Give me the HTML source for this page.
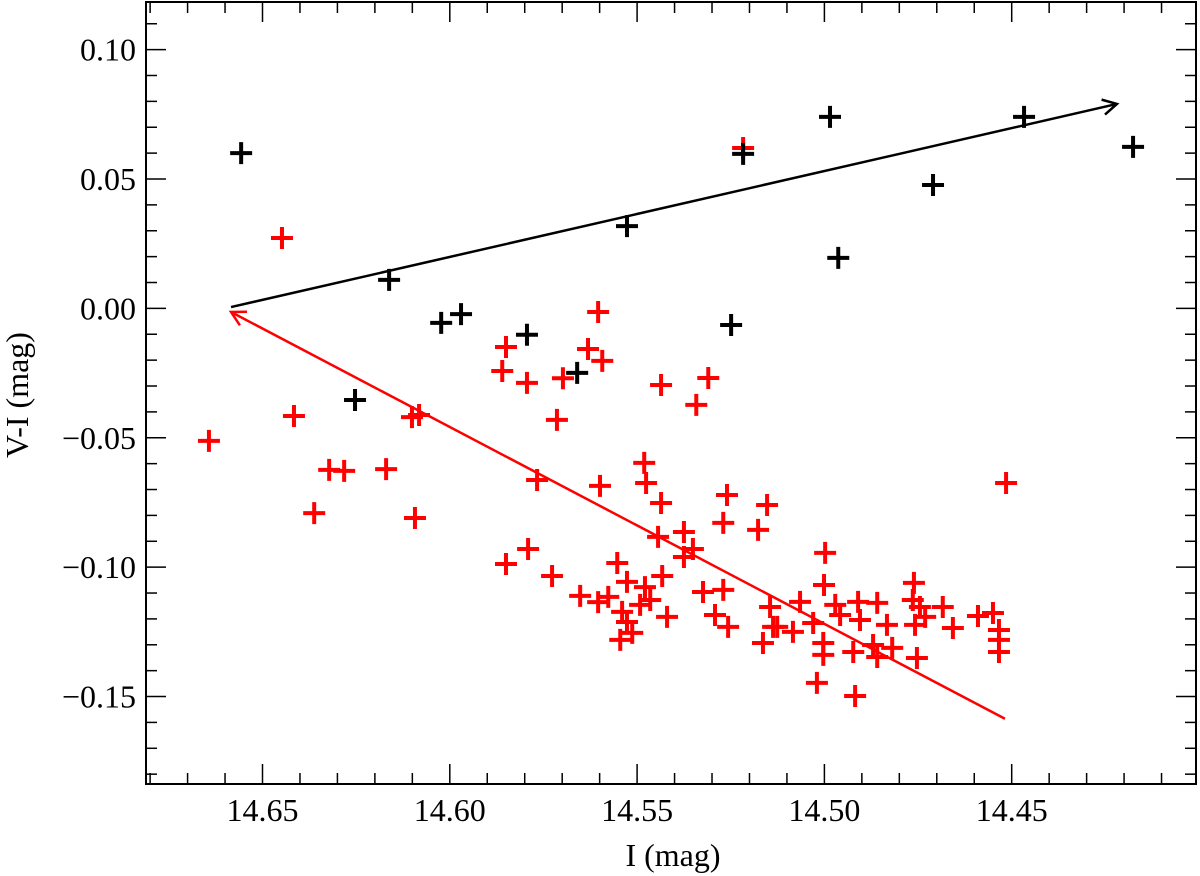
<!DOCTYPE html>
<html><head><meta charset="utf-8"><style>
html,body{margin:0;padding:0;background:#fff;}
svg{display:block;font-family:"Liberation Serif",serif;}
</style></head><body>
<svg id="chart" width="1200" height="876" viewBox="0 0 1200 876">
<rect x="0" y="0" width="1200" height="876" fill="#fff"/>
<g id="ticks"></g>
<g id="marks"></g>
<g id="arrows"></g>
<rect x="146" y="2" width="1050" height="782" fill="none" stroke="#000" stroke-width="2"/>
<text x="673" y="866" font-size="32" text-anchor="middle">I (mag)</text>
<text transform="translate(28,395) rotate(-90)" font-size="32" text-anchor="middle">V-I (mag)</text>
</svg>
<script>
const xTicks = [14.65, 14.60, 14.55, 14.50, 14.45];
const xTickLabels = ["14.65", "14.60", "14.55", "14.50", "14.45"];
const yTicks = [0.10, 0.05, 0.00, -0.05, -0.10, -0.15];
const yTickLabels = ["0.10", "0.05", "0.00", "\u22120.05", "\u22120.10", "\u22120.15"];
const blackI = [14.6557,14.6162,14.6253,14.6023,14.5970,14.5794,14.5660,14.5527,14.5249,14.5217,14.4985,14.4963,14.4710,14.4467,14.4176];
const blackV = [0.0600,0.0110,-0.0354,-0.0056,-0.0022,-0.0102,-0.0249,0.0318,-0.0064,0.0597,0.0740,0.0195,0.0477,0.0740,0.0624];
const redI = [14.6448,14.6643,14.6416,14.6322,14.6282,14.6170,14.6362,14.6093,14.6101,14.6082,14.5714,14.5767,14.5850,14.5791,14.5727,14.5652,14.5794,14.5698,14.5604,14.5850,14.5860,14.5631,14.5593,14.5436,14.5310,14.5342,14.5481,14.5476,14.5599,14.5436,14.5260,14.5153,14.5270,14.5177,14.5444,14.5375,14.5351,14.5375,14.5553,14.5577,14.5527,14.5433,14.5479,14.5465,14.5492,14.5540,14.5527,14.5513,14.5545,14.5420,14.5324,14.5270,14.5292,14.5257,14.5145,14.5164,14.5065,14.5126,14.5084,14.5030,14.4515,14.4998,14.5001,14.4971,14.4958,14.4910,14.4859,14.4905,14.4833,14.5003,14.5003,14.4923,14.4870,14.4859,14.4819,14.5020,14.4918,14.4761,14.4764,14.4745,14.4684,14.4731,14.4758,14.4657,14.4753,14.4590,14.4550,14.4534,14.4534,14.4534,14.5217,14.5137,14.5604];
const redV = [0.0272,-0.0512,-0.0416,-0.0624,-0.0628,-0.0621,-0.0791,-0.0810,-0.0420,-0.0412,-0.0431,-0.0663,-0.0988,-0.0930,-0.1034,-0.1111,-0.0288,-0.0270,-0.0014,-0.0149,-0.0242,-0.0157,-0.0203,-0.0296,-0.0269,-0.0373,-0.0597,-0.0675,-0.0686,-0.0752,-0.0721,-0.0760,-0.0829,-0.0856,-0.0883,-0.0864,-0.0930,-0.0961,-0.0984,-0.1115,-0.1057,-0.1034,-0.1077,-0.1127,-0.1146,-0.1173,-0.1212,-0.1254,-0.1281,-0.1192,-0.1096,-0.1088,-0.1185,-0.1231,-0.1154,-0.1293,-0.1134,-0.1231,-0.1250,-0.1216,-0.0675,-0.0945,-0.1069,-0.1146,-0.1185,-0.1134,-0.1138,-0.1204,-0.1223,-0.1293,-0.1339,-0.1328,-0.1301,-0.1347,-0.1312,-0.1447,-0.1498,-0.1061,-0.1127,-0.1154,-0.1154,-0.1192,-0.1223,-0.1235,-0.1351,-0.1189,-0.1177,-0.1243,-0.1281,-0.1328,0.0620,-0.1231,-0.1135];
const blackArrowI = [14.6584, 14.4219];
const blackArrowV = [0.0005, 0.0790];
const redArrowI = [14.4518, 14.6584];
const redArrowV = [-0.1586, -0.0014];

const L=146,R=1196,T=2,B=784;
const XMIN=14.6811,XMAX=14.4008,YMAX=0.1184,YMIN=-0.1838;
function xs(v){return L+(XMIN-v)/(XMIN-XMAX)*(R-L);}
function ys(v){return T+(YMAX-v)/(YMAX-YMIN)*(B-T);}
const NS="http://www.w3.org/2000/svg";
function mk(tag,attrs,parent){const e=document.createElementNS(NS,tag);for(const k in attrs)e.setAttribute(k,attrs[k]);parent.appendChild(e);return e;}

const tg=document.getElementById('ticks');
for(let k=-3;k<=28;k++){
  const v=14.68-k*0.01; const x=xs(v);
  if(x<L+1||x>R-1) continue;
  const major=Math.abs(Math.round(v*100)%5)===0;
  const len=major?20:11;
  const t1=mk('line',{x1:x,x2:x,y1:B,y2:B-len,stroke:'#000','stroke-width':1.5},tg);
  
  
  const t2=mk('line',{x1:x,x2:x,y1:T,y2:T+len,stroke:'#000','stroke-width':1.5},tg);
  
  
}
for(let k=-19;k<=12;k++){
  const v=k*0.01; const y=ys(v);
  if(y<T+1||y>B-1) continue;
  const major=Math.abs(k)%5===0;
  const len=major?20:11;
  const t1=mk('line',{x1:L,x2:L+len,y1:y,y2:y,stroke:'#000','stroke-width':1.5},tg);
  
  
  const t2=mk('line',{x1:R,x2:R-len,y1:y,y2:y,stroke:'#000','stroke-width':1.5},tg);
  
  
}
xTicks.forEach((v,i)=>{
  const t=mk('text',{x:xs(v),y:821,'font-size':32,'text-anchor':'middle'},tg);
  t.textContent=xTickLabels[i];
  
  
});
yTicks.forEach((v,i)=>{
  const t=mk('text',{x:136,y:ys(v)+11,'font-size':32,'text-anchor':'end'},tg);
  t.textContent=yTickLabels[i];
  
  
});

const mg=document.getElementById('marks');
function cross(x,y,c,name){
  const g=mk('path',{d:`M${x-11},${y}H${x+11}M${x},${y-11}V${y+11}`,stroke:c,'stroke-width':4,fill:'none'},mg);
  
  
}
redI.forEach((v,i)=>cross(xs(v),ys(redV[i]),'#ff0000','red-point'));
blackI.forEach((v,i)=>cross(xs(v),ys(blackV[i]),'#000','black-point'));

const ag=document.getElementById('arrows');
function arrow(I,V,c,name){
  const x1=xs(I[0]),y1=ys(V[0]),x2=xs(I[1]),y2=ys(V[1]);
  const a=Math.atan2(y2-y1,x2-x1),h=16,w=0.5;
  const p=mk('path',{d:`M${x1},${y1}L${x2},${y2}M${x2-h*Math.cos(a-w)},${y2-h*Math.sin(a-w)}L${x2},${y2}L${x2-h*Math.cos(a+w)},${y2-h*Math.sin(a+w)}`,stroke:c,'stroke-width':2.5,fill:'none'},ag);
  
  
}
arrow(blackArrowI,blackArrowV,'#000','black-trend-arrow');
arrow(redArrowI,redArrowV,'#ff0000','red-trend-arrow');
</script>
</body></html>
